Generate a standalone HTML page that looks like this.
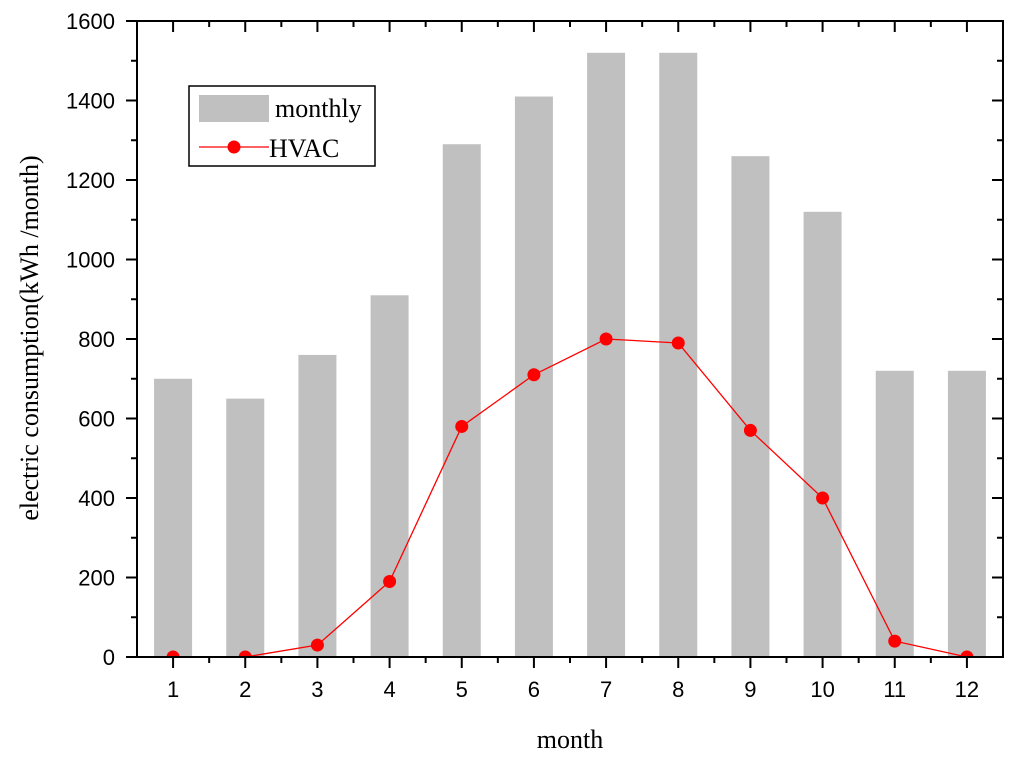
<!DOCTYPE html>
<html><head><meta charset="utf-8"><style>
html,body{margin:0;padding:0;background:#fff;}
svg text{font-family:"Liberation Sans",sans-serif;}
</style></head><body>
<svg id="chart" width="1024" height="762" xmlns="http://www.w3.org/2000/svg">
<defs><clipPath id="pc"><rect x="137" y="21" width="866" height="636"/></clipPath></defs>
<g id="marks" clip-path="url(#pc)"></g>
<g id="axes"></g>
</svg>
<script>
const months = [1,2,3,4,5,6,7,8,9,10,11,12];
const monthly = [700,650,760,910,1290,1410,1520,1520,1260,1120,720,720];
const hvac = [0,0,30,190,580,710,800,790,570,400,40,0];
const yTicks = [0,200,400,600,800,1000,1200,1400,1600];

const L=137,R=1003,T=21,B=657;
const x = m => L + (m-0.5)/12*(R-L);
const y = v => B - v/1600*(B-T);
const NS="http://www.w3.org/2000/svg";
function mk(tag, attrs, parent, text){
  const e=document.createElementNS(NS,tag);
  for(const k in attrs) e.setAttribute(k,attrs[k]);
  if(text!==undefined) e.textContent=text;
  parent.appendChild(e); return e;
}
const marks=document.getElementById('marks');
const axes=document.getElementById('axes');
const bw=38;
months.forEach((m,i)=>{
  const r=mk('rect',{x:x(m)-bw/2,y:y(monthly[i]),width:bw,height:B-y(monthly[i]),fill:'#c0c0c0'},marks);
  
  
});
const pl=mk('polyline',{points:months.map((m,i)=>x(m)+','+y(hvac[i])).join(' '),fill:'none',stroke:'#ff0000','stroke-width':1.3},marks);


months.forEach((m,i)=>{
  const c=mk('circle',{cx:x(m),cy:y(hvac[i]),r:6.5,fill:'#ff0000'},marks);
  
  
});
const fr=mk('rect',{x:L,y:T,width:R-L,height:B-T,fill:'none',stroke:'#000','stroke-width':2},axes);


months.forEach(m=>{
  mk('line',{x1:x(m),x2:x(m),y1:B,y2:B+11,stroke:'#000','stroke-width':2},axes);
  mk('line',{x1:x(m),x2:x(m),y1:T,y2:T+11,stroke:'#000','stroke-width':2},axes);
  const t=mk('text',{x:x(m),y:B+40,'text-anchor':'middle','font-size':22},axes,m);
  
  
});
for(let m=1.5;m<12;m+=1){
  mk('line',{x1:x(m),x2:x(m),y1:B,y2:B+6,stroke:'#000','stroke-width':2},axes);
  mk('line',{x1:x(m),x2:x(m),y1:T,y2:T+6,stroke:'#000','stroke-width':2},axes);
}
yTicks.forEach(v=>{
  mk('line',{x1:L-11,x2:L,y1:y(v),y2:y(v),stroke:'#000','stroke-width':2},axes);
  mk('line',{x1:R-11,x2:R,y1:y(v),y2:y(v),stroke:'#000','stroke-width':2},axes);
  const t=mk('text',{x:L-22,y:y(v)+8,'text-anchor':'end','font-size':22},axes,v);
  
  
});
for(let v=100;v<1600;v+=200){
  mk('line',{x1:L-6,x2:L,y1:y(v),y2:y(v),stroke:'#000','stroke-width':2},axes);
  mk('line',{x1:R-6,x2:R,y1:y(v),y2:y(v),stroke:'#000','stroke-width':2},axes);
}
</script>
<svg style="position:absolute;left:0;top:0" width="1024" height="762" xmlns="http://www.w3.org/2000/svg">
<text x="570" y="748" text-anchor="middle" font-size="26" style="font-family:'Liberation Serif',serif">month</text>
<text transform="translate(38,338) rotate(-90)" text-anchor="middle" font-size="26" style="font-family:'Liberation Serif',serif">electric consumption(kWh /month)</text>
<g>
<rect x="189" y="86" width="186" height="80" fill="#fff" stroke="#000" stroke-width="1.5"/>
<rect x="199" y="95" width="70" height="27" fill="#c0c0c0"/>
<text x="275" y="117" font-size="26" style="font-family:'Liberation Serif',serif">monthly</text>
<line x1="199" x2="269" y1="147" y2="147" stroke="#ff0000" stroke-width="1.3"/>
<circle cx="234" cy="147" r="6.5" fill="#ff0000"/>
<text x="269" y="157" font-size="26" style="font-family:'Liberation Serif',serif">HVAC</text>
</g>
</svg>
</body></html>
